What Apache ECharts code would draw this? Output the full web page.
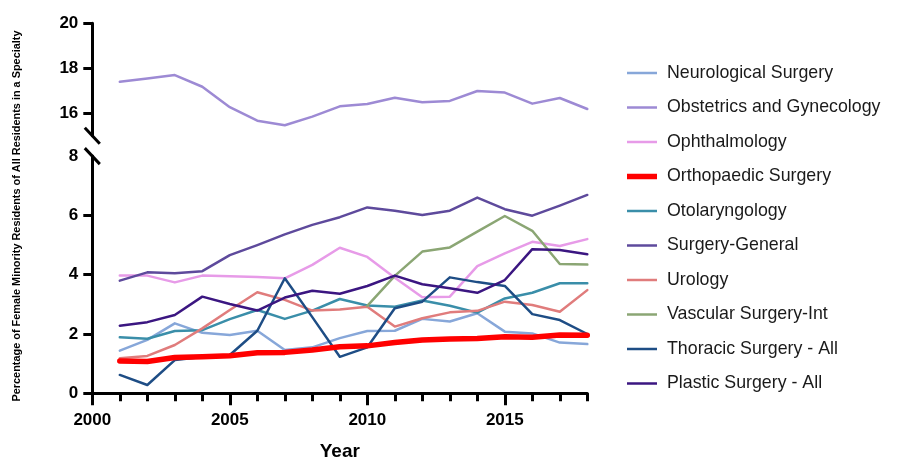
<!DOCTYPE html>
<html>
<head>
<meta charset="utf-8">
<script src="https://cdn.jsdelivr.net/npm/echarts@6/dist/echarts.min.js"></script>
<style>
  html, body { margin: 0; padding: 0; background: #fff; }
  #chart { width: 905px; height: 459px; }
</style>
</head>
<body>
<div id="chart"></div>
<script>
// Residency years
const years = [2001, 2002, 2003, 2004, 2005, 2006, 2007, 2008, 2009,
               2010, 2011, 2012, 2013, 2014, 2015, 2016, 2017, 2018];

// Percentage of female minority residents per specialty
const neuro    = [1.44, 1.80, 2.36, 2.04, 1.97, 2.11, 1.46, 1.55, 1.86, 2.10, 2.11, 2.51, 2.42, 2.70, 2.08, 2.02, 1.71, 1.66];
const obgyn    = [17.40, 17.55, 17.70, 17.18, 16.27, 15.67, 15.47, 15.85, 16.31, 16.41, 16.69, 16.49, 16.55, 16.99, 16.92, 16.43, 16.68, 16.19];
const ophth    = [3.97, 3.97, 3.74, 3.97, 3.95, 3.92, 3.88, 4.33, 4.91, 4.60, 3.90, 3.24, 3.26, 4.29, 4.72, 5.11, 4.97, 5.20];
const ortho    = [1.09, 1.07, 1.21, 1.23, 1.27, 1.37, 1.38, 1.46, 1.57, 1.60, 1.71, 1.80, 1.83, 1.85, 1.91, 1.89, 1.97, 1.96];
const otol     = [1.89, 1.84, 2.10, 2.13, 2.50, 2.81, 2.51, 2.79, 3.18, 2.96, 2.92, 3.13, 2.95, 2.72, 3.20, 3.39, 3.71, 3.71];
const general  = [3.80, 4.08, 4.05, 4.12, 4.66, 5.00, 5.36, 5.68, 5.94, 6.27, 6.16, 6.01, 6.16, 6.60, 6.21, 5.99, 6.33, 6.69];
const urology  = [1.18, 1.26, 1.63, 2.19, 2.81, 3.41, 3.15, 2.79, 2.83, 2.92, 2.25, 2.53, 2.73, 2.78, 3.09, 2.98, 2.75, 3.48];
const vascular = [null, null, null, null, null, null, null, null, null, 2.95, 3.96, 4.78, 4.92, 5.45, 5.98, 5.48, 4.36, 4.34];
const thoracic = [0.62, 0.28, 1.12, 1.22, 1.29, 2.11, 3.88, 2.57, 1.23, 1.55, 2.87, 3.09, 3.91, 3.75, 3.62, 2.67, 2.47, 2.00];
const plastic  = [2.28, 2.40, 2.64, 3.26, 3.01, 2.79, 3.23, 3.46, 3.36, 3.62, 3.97, 3.68, 3.54, 3.39, 3.82, 4.86, 4.83, 4.69];

// Axis ticks and labels
const majorYears = [2000, 2005, 2010, 2015];
const upperTicks = [16, 18, 20];
const lowerTicks = [0, 2, 4, 6];
const lowerLabels = [0, 2, 4, 6, 8];

const FONT = '"Liberation Sans", Arial, Helvetica, sans-serif';

const pairs = arr => years.map((y, i) => [y, arr[i] === null ? '-' : arr[i]]);

const seriesDefs = [
  { name: 'Neurological Surgery',     data: neuro,    color: '#87a7d9', width: 2.5, upper: false },
  { name: 'Obstetrics and Gynecology',data: obgyn,    color: '#9d8ad4', width: 2.5, upper: true },
  { name: 'Ophthalmology',            data: ophth,    color: '#e79be8', width: 2.5, upper: false },
  { name: 'Orthopaedic Surgery',      data: ortho,    color: '#ff0000', width: 5.5, upper: false, z: 10 },
  { name: 'Otolaryngology',           data: otol,     color: '#3a8ea9', width: 2.5, upper: false },
  { name: 'Surgery-General',          data: general,  color: '#5e4a9c', width: 2.5, upper: false },
  { name: 'Urology',                  data: urology,  color: '#e07c7c', width: 2.5, upper: false },
  { name: 'Vascular Surgery-Int',     data: vascular, color: '#8ba674', width: 2.5, upper: false },
  { name: 'Thoracic Surgery - All',   data: thoracic, color: '#1e4d85', width: 2.5, upper: false },
  { name: 'Plastic Surgery - All',    data: plastic,  color: '#3b1681', width: 2.5, upper: false }
];

const axisLineStyle = { color: '#000', width: 3 };
const tickLabel = { color: '#000', fontFamily: FONT, fontWeight: 'bold', fontSize: 17 };
const plainNumber = v => String(v);
// Flat bar legend icon whose thickness follows the series line width
const barIcon = w => 'path://M0,0 L30,0 L30,' + w + ' L0,' + w + ' Z';

const chart = echarts.init(document.getElementById('chart'), null, { renderer: 'canvas' });

const option = {
  animation: false,
  backgroundColor: '#fff',
  grid: [
    { left: 92.3, width: 495, top: 23.3, height: 112.5, outerBoundsMode: 'none', containLabel: false },
    { left: 92.3, width: 495, top: 156.1, height: 237.2, outerBoundsMode: 'none', containLabel: false }
  ],
  xAxis: [
    { gridIndex: 0, type: 'value', min: 2000, max: 2018, show: false },
    {
      gridIndex: 1, type: 'value', min: 2000, max: 2018, position: 'bottom',
      axisLine: { show: true, lineStyle: axisLineStyle },
      axisTick: { show: true, customValues: majorYears, length: 12, lineStyle: { color: '#000', width: 3 } },
      axisLabel: Object.assign({ customValues: majorYears, margin: 18.5, formatter: plainNumber }, tickLabel),
      splitLine: { show: false },
      name: 'Year', nameLocation: 'middle', nameGap: 48.5,
      nameTextStyle: { color: '#000', fontFamily: FONT, fontWeight: 'bold', fontSize: 19 }
    },
    {
      gridIndex: 1, type: 'value', min: 2000, max: 2018, position: 'bottom',
      axisLine: { show: false },
      axisTick: { show: true, customValues: years, length: 8, lineStyle: { color: '#000', width: 3 } },
      axisLabel: { show: false },
      splitLine: { show: false }
    }
  ],
  yAxis: [
    {
      gridIndex: 0, type: 'value', min: 15, max: 20,
      axisLine: { show: true, lineStyle: axisLineStyle },
      axisTick: { show: true, customValues: upperTicks, length: 9, lineStyle: { color: '#000', width: 3 } },
      axisLabel: Object.assign({ customValues: upperTicks, margin: 14 }, tickLabel),
      splitLine: { show: false }
    },
    {
      gridIndex: 1, type: 'value', min: 0, max: 8,
      axisLine: { show: true, lineStyle: axisLineStyle },
      axisTick: { show: true, customValues: lowerTicks, length: 9, lineStyle: { color: '#000', width: 3 } },
      axisLabel: Object.assign({ customValues: lowerLabels, margin: 14 }, tickLabel),
      splitLine: { show: false }
    }
  ],
  legend: {
    orient: 'vertical',
    left: 622,
    top: 58,
    itemWidth: 30,
    itemHeight: 20,
    itemGap: 14.5,
    data: seriesDefs.map(s => ({ name: s.name, icon: barIcon(s.width), itemStyle: { color: s.color } })),
    textStyle: { color: '#1a1a1a', fontFamily: FONT, fontSize: 17.8, lineHeight: 20, padding: [0, 0, 0, 5] }
  },
  series: seriesDefs.map(s => ({
    name: s.name,
    type: 'line',
    xAxisIndex: s.upper ? 0 : 1,
    yAxisIndex: s.upper ? 0 : 1,
    data: pairs(s.data),
    symbol: 'none',
    showSymbol: false,
    connectNulls: false,
    z: s.z || 2,
    color: s.color,
    lineStyle: { color: s.color, width: s.width, cap: 'round', join: 'round' },
    itemStyle: { color: s.color }
  })),
  graphic: []
};

chart.setOption(option);

// Break marks on the two y-axis segments and the vertical axis title
const lowTop = chart.convertToPixel({ xAxisIndex: 1, yAxisIndex: 1 }, [2000, 8]);
const upBottom = chart.convertToPixel({ xAxisIndex: 0, yAxisIndex: 0 }, [2000, 15]);
const slash = (p) => ({
  type: 'line',
  shape: { x1: p[0] - 7.5, y1: p[1] - 8, x2: p[0] + 7.5, y2: p[1] + 8 },
  style: { stroke: '#000', lineWidth: 3 },
  z: 100
});
chart.setOption({
  graphic: [
    slash(lowTop),
    slash(upBottom),
    {
      type: 'text',
      x: 17, y: 216,
      rotation: Math.PI / 2,
      style: {
        text: 'Percentage of Female Minority Residents of All Residents in a Specialty',
        fill: '#000',
        font: 'bold 10.9px ' + FONT,
        align: 'center',
        verticalAlign: 'middle'
      }
    }
  ]
});
</script>
</body>
</html>
